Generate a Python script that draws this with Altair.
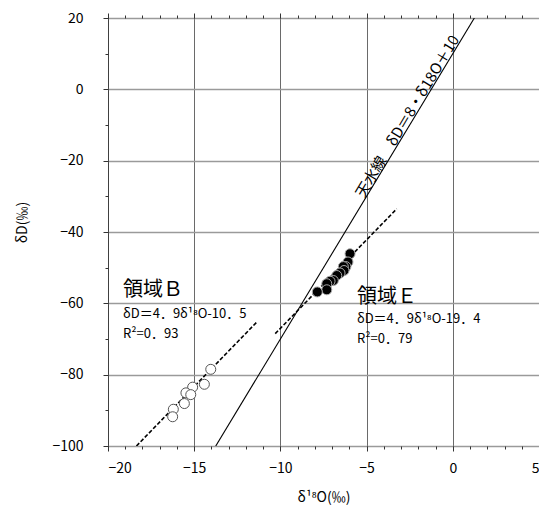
import altair as alt
import pandas as pd

FONT = "Noto Sans CJK JP"

# Region B samples (open circles)
b_x = [-14.04, -14.41, -15.09, -15.48, -15.20, -15.57, -16.21, -16.25]
b_y = [-78.5, -82.7, -83.5, -85.1, -85.6, -88.1, -89.7, -91.8]

# Region E samples (filled circles)
e_x = [-5.96, -6.08, -6.20, -6.35, -6.31, -6.54, -6.73, -6.93, -7.12, -7.31, -7.31, -7.86]
e_y = [-46.1, -48.4, -49.7, -49.7, -50.8, -51.5, -52.2, -53.6, -53.8, -54.5, -56.2, -56.8]

# Lines (end points)
mwl_x = [-13.75, 1.25]
mwl_y = [-100, 20]
bline_x = [-18.35, -11.4]
bline_y = [-100, -65.4]
eline_x = [-10.3, -3.25]
eline_y = [-68.5, -33.5]

# Annotations
big_lab = ["領域Ｂ", "領域Ｅ"]
big_x = [-19.13, -5.56]
big_y = [-58.0, -60.0]
eq_lab = ["δD＝4．9δ¹⁸O-10．5", "δD＝4．9δ¹⁸O-19．4"]
eq_x = [-19.13, -5.56]
eq_y = [-64.1, -65.5]
r2_lab = ["R²=0．93", "R²=0．79"]
r2_x = [-19.13, -5.56]
r2_y = [-69.7, -71.1]
mwl_lab = ["天水線　δD＝8・δ18O＋10"]
mwl_lx = [-2.62]
mwl_ly = [-7.6]

x_major = list(range(-20, 6, 5))
x_minor = list(range(-20, 6, 1))
y_major = list(range(-100, 21, 20))
y_minor = list(range(-100, 21, 10))

xs = alt.Scale(domain=[-20, 5], nice=False, zero=False)
ys = alt.Scale(domain=[-100, 20], nice=False, zero=False)

TC = "#333333"

xa_main = alt.Axis(orient="bottom", values=x_major, tickSize=5, tickColor=TC, domain=False,
                   grid=True, gridColor="#444444", gridWidth=0.8,
                   labelFont=FONT, labelFontSize=14, labelColor="black", labelPadding=10,
                   title="δ¹⁸O(‰)", titleFont=FONT, titleFontSize=14, titleFontWeight="normal",
                   titleColor="black", titlePadding=15)
ya_main = alt.Axis(orient="left", values=y_major, tickSize=5, tickColor=TC, domain=False,
                   grid=True, gridColor="#9a9a9a", gridWidth=1.6,
                   labelFont=FONT, labelFontSize=14, labelColor="black", labelPadding=20,
                   title="δD(‰)", titleFont=FONT, titleFontSize=14, titleFontWeight="normal",
                   titleColor="black", titlePadding=22, titleY=204)
xa_minor = alt.Axis(orient="bottom", values=x_minor, tickSize=3, tickColor=TC, domain=False,
                    grid=False, labels=False, title="")
ya_minor = alt.Axis(orient="left", values=y_minor, tickSize=3, tickColor=TC, domain=False,
                    grid=False, labels=False, title="")
xa_top = alt.Axis(orient="top", values=x_major, tickSize=5, tickColor=TC, domain=False,
                  grid=False, labels=False, title="")
ya_right = alt.Axis(orient="right", values=y_major, tickSize=5, tickColor=TC, domain=False,
                    grid=False, labels=False, title="")
xa_top_minor = alt.Axis(orient="top", values=x_minor, tickSize=3, tickColor=TC, domain=False,
                        grid=False, labels=False, title="")
ya_right_minor = alt.Axis(orient="right", values=y_minor, tickSize=3, tickColor=TC, domain=False,
                          grid=False, labels=False, title="")

mwl = alt.Chart(pd.DataFrame({"x": mwl_x, "y": mwl_y})).mark_line(
    color="black", strokeWidth=1.1, clip=True
).encode(
    x=alt.X("x:Q", scale=xs, axis=xa_main),
    y=alt.Y("y:Q", scale=ys, axis=ya_main),
)

bline = alt.Chart(pd.DataFrame({"x": bline_x, "y": bline_y})).mark_line(
    color="black", strokeWidth=1.6, strokeDash=[4, 2], clip=True
).encode(
    x=alt.X("x:Q", scale=xs, axis=xa_minor),
    y=alt.Y("y:Q", scale=ys, axis=ya_minor),
)

eline = alt.Chart(pd.DataFrame({"x": eline_x, "y": eline_y})).mark_line(
    color="black", strokeWidth=1.6, strokeDash=[4, 2], clip=True
).encode(
    x=alt.X("x:Q", scale=xs, axis=xa_top),
    y=alt.Y("y:Q", scale=ys, axis=ya_right),
)

bpts = alt.Chart(pd.DataFrame({"x": b_x, "y": b_y})).mark_point(
    shape="circle", filled=True, fill="white", stroke="#555555", strokeWidth=1, size=100, opacity=1
).encode(
    x=alt.X("x:Q", scale=xs, axis=xa_top_minor),
    y=alt.Y("y:Q", scale=ys, axis=ya_right_minor),
)

epts = alt.Chart(pd.DataFrame({"x": e_x, "y": e_y})).mark_point(
    shape="circle", filled=True, fill="black", stroke="#aaaaaa", strokeWidth=1, size=100, opacity=1
).encode(
    x=alt.X("x:Q", scale=xs, axis=None),
    y=alt.Y("y:Q", scale=ys, axis=None),
)

def text_layer(xv, yv, labels, size, **kw):
    return alt.Chart(pd.DataFrame({"x": xv, "y": yv, "t": labels})).mark_text(
        font=FONT, fontSize=size, color="black", **kw
    ).encode(
        x=alt.X("x:Q", scale=xs, axis=None),
        y=alt.Y("y:Q", scale=ys, axis=None),
        text="t:N",
    )

t_big = text_layer(big_x, big_y, big_lab, 20, align="left", baseline="alphabetic")
t_eq = text_layer(eq_x, eq_y, eq_lab, 13, align="left", baseline="alphabetic")
t_r2 = text_layer(r2_x, r2_y, r2_lab, 13, align="left", baseline="alphabetic")
t_mwl = text_layer(mwl_lx, mwl_ly, mwl_lab, 15, align="center", baseline="middle", angle=301)

chart = alt.layer(
    mwl, bline, eline, bpts, epts, t_big, t_eq, t_r2, t_mwl
).resolve_axis(
    x="independent", y="independent"
).properties(
    width=431, height=428,
    autosize=alt.AutoSizeParams(type="none"),
    padding={"left": 100, "top": 10, "right": 0, "bottom": 63},
    background="white",
).configure_view(
    stroke="#333333", strokeWidth=1
)

chart.save("out.html", embed_options={"renderer": "svg", "actions": False})
